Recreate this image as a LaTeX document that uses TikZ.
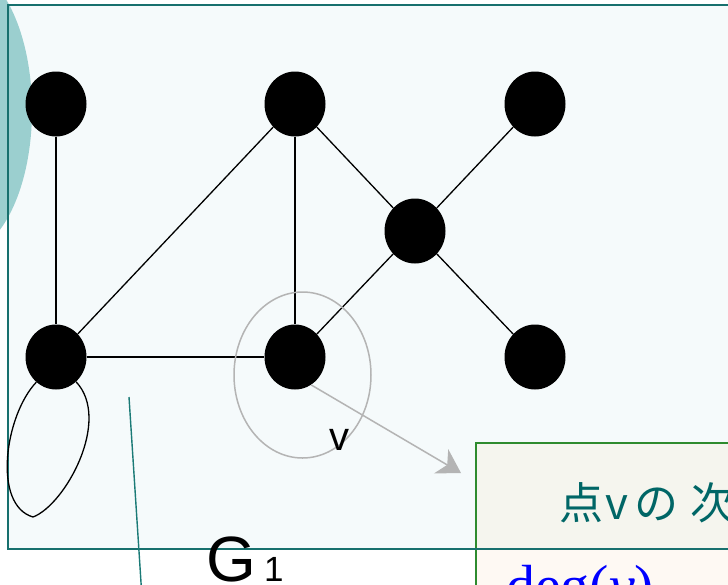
\documentclass[tikz,border=0pt]{standalone}
\usepackage{fontspec}
\setmainfont{Liberation Serif}
\setsansfont{Liberation Sans}
\newfontfamily\cjk{Noto Sans CJK JP}
\usetikzlibrary{shapes.geometric,arrows.meta}
\definecolor{framefill}{HTML}{F5FAFB}
\definecolor{framestroke}{HTML}{17706E}
\definecolor{tealblob}{HTML}{9BCFCF}
\definecolor{tealline}{HTML}{1A7A76}
\definecolor{boxgreen}{HTML}{2E8B2E}
\definecolor{boxtop}{HTML}{F5F5EE}
\definecolor{boxbottom}{HTML}{FEF9F3}
\definecolor{titleteal}{HTML}{006666}
\definecolor{circgray}{HTML}{B4B4B4}
\tikzset{
  vertex/.style={ellipse, fill=black, draw=none, minimum width=61pt, minimum height=65pt, inner sep=0pt},
  edge/.style={draw=black, line width=1.3pt},
  lbl/.style={inner sep=0pt, outer sep=0pt}
}
\begin{document}
\begin{tikzpicture}[x=1pt,y=-1pt]
\useasboundingbox (0,0) rectangle (728,584);
% frame background
\fill[framefill] (8,5) rectangle (745,549);
% teal blob
\fill[tealblob] (-40,110) ellipse [x radius=72, y radius=144];
% box
\fill[boxtop] (476,443) rectangle (745,549);
\fill[boxbottom] (476,549) rectangle (745,600);
\draw[boxgreen, line width=1.6pt] (476,600) -- (476,443) -- (745,443);
% frame stroke
\draw[framestroke, line width=2pt] (8,5) rectangle (745,549);
% teal line
\coordinate (t1) at (129,397);
\coordinate (t2) at (141.5,590);
\draw[tealline, line width=1.4pt] (t1) -- (t2);
% vertices
\node[vertex] (A) at (56,104) {};
\node[vertex] (B) at (295,104) {};
\node[vertex] (C) at (535,104) {};
\node[vertex] (D) at (415,231) {};
\node[vertex] (E) at (56,357) {};
\node[vertex] (F) at (295,357) {};
\node[vertex] (G) at (535,357) {};
% edges
\draw[edge] (A) -- (E);
\draw[edge] (E) -- (B);
\draw[edge] (B) -- (F);
\draw[edge] (B) -- (D);
\draw[edge] (C) -- (D);
\draw[edge] (D) -- (F);
\draw[edge] (D) -- (G);
\draw[edge] (E) -- (F);
\draw[edge] (E.232) .. controls (5,415) and (-8,505) .. (33,517) .. controls (65,505) and (112,420) .. (E.309);
% gray highlight
\node[draw=circgray, line width=1.5pt, ellipse, minimum width=137pt, minimum height=166pt, inner sep=0pt] (hl) at (302.5,375) {};
\coordinate (tip) at (461,473);
\draw[circgray, line width=1.5pt, -{Stealth[length=23pt,width=28pt,inset=7pt]}] (F.300) -- (tip);
% labels
\node[lbl, anchor=base west, font=\sffamily\fontsize{40}{40}\selectfont] (vl) at (329,450) {v};
\node[lbl, anchor=base west, font=\sffamily\fontsize{64}{64}\selectfont] (g) at (206,581) {G};
\node[lbl, anchor=base west, font=\sffamily\fontsize{35}{35}\selectfont] (g1) at (264,581) {1};
\node[lbl, anchor=base west, text=titleteal, font=\cjk\fontsize{44}{44}\selectfont] (title) at (559,519) {点\hspace{3pt}v\hspace{6pt}の\hspace{12pt}次\hspace{5pt}数};
\node[lbl, anchor=base west, text=blue, font=\rmfamily\fontsize{58}{58}\selectfont] (deg) at (506,605) {deg(\textit{v})};
\end{tikzpicture}
\end{document}
